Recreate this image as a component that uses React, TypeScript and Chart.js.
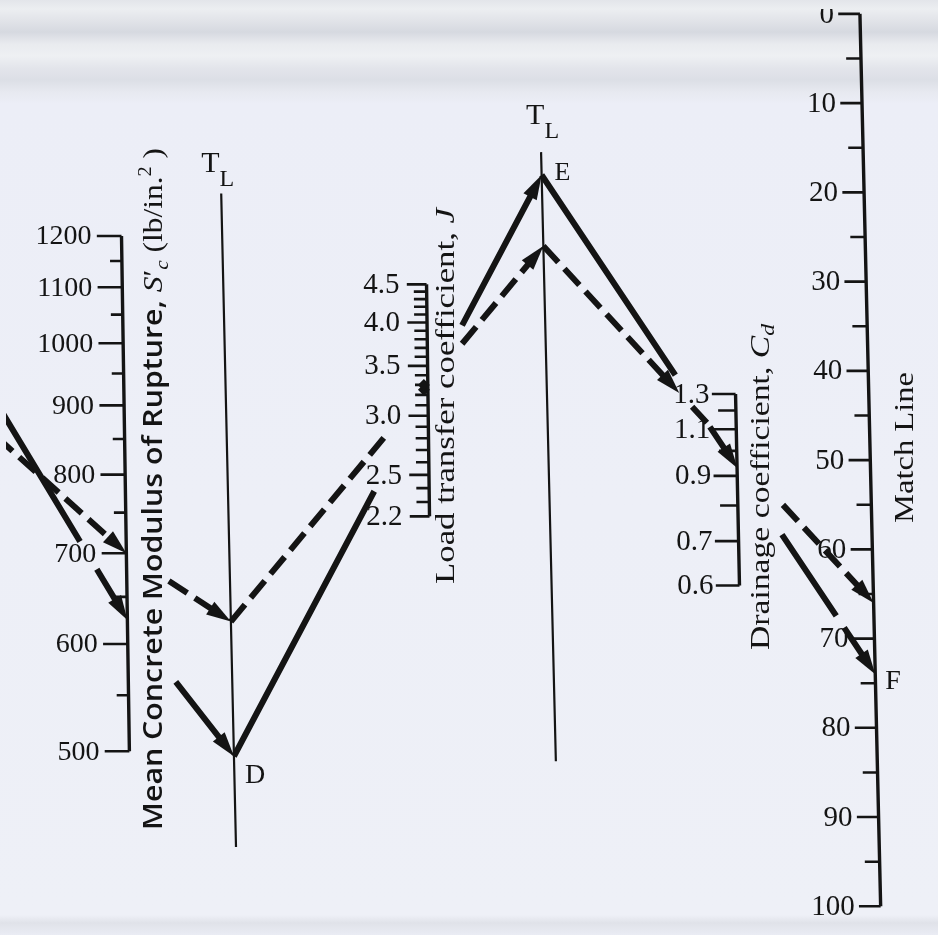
import React, { useEffect, useRef } from "react";
import { Chart, registerables } from "chart.js";

Chart.register(...registerables);

const W = 938;
const H = 935;
const INK = "#141414";
const SERIF = "'Liberation Serif', 'Times New Roman', serif";
const SANS = "'Open Sans', 'DejaVu Sans', sans-serif";

// ---------------- data (nomograph readings) ----------------
const lineNames = ["Solid line", "Dashed line"];
const entryEdgeY = [418, 445]; // where each line enters from the left frame edge (earlier part of the nomograph)
const scReading = [625, 700]; // Mean concrete modulus of rupture S'c (lb/in.^2)
const tlPivotD = [0.861, 0.655]; // turning point on first T_L line (0 = top, 1 = bottom)
const jReading = [3.25, 3.3]; // load transfer coefficient J
const matchReading = [74, 66]; // match line reading

// scale ticks / labels
const scMajor = [1200, 1100, 1000, 900, 800, 700, 600, 500];
const scMinor = [1150, 1050, 950, 850, 750, 650, 550];
const jLabels = [4.5, 4.0, 3.5, 3.0, 2.5, 2.2];
const jTicks = [2.2, 2.3, 2.4, 2.5, 2.6, 2.7, 2.8, 2.9, 3.0, 3.1, 3.2, 3.3, 3.4, 3.5, 3.6, 3.7, 3.8, 3.9, 4.0, 4.1, 4.2, 4.3, 4.4, 4.5];
const cdLabels = [1.3, 1.1, 0.9, 0.7, 0.6];
const cdMinor = [1.2, 1.0, 0.8];
const matchMajor = [0, 10, 20, 30, 40, 50, 60, 70, 80, 90, 100];
const matchMinor = [5, 15, 25, 35, 45, 55, 65, 75, 85, 95];

// ---------------- layout of the nomograph scales ----------------
type Pt = [number, number];
type Axis = { top: Pt; bot: Pt; vTop: number; vBot: number; kind: "log" | "lin" | "isq" };
const axSc: Axis = { top: [117, 233], bot: [125, 755], vTop: 1200, vBot: 500, kind: "log" };
const axTl1: Axis = { top: [218, 190], bot: [233, 852], vTop: 0, vBot: 1, kind: "lin" };
const axJ: Axis = { top: [426, 282], bot: [429, 517], vTop: 4.5, vBot: 2.2, kind: "log" };
const axTl2: Axis = { top: [542, 148], bot: [557, 765], vTop: 0, vBot: 1, kind: "lin" };
const axCd: Axis = { top: [739, 393], bot: [743, 587], vTop: 1.3, vBot: 0.6, kind: "isq" };
const axMatch: Axis = { top: [865, 8], bot: [886, 912], vTop: 0, vBot: 100, kind: "lin" };

function tf(kind: string, v: number) {
  if (kind === "log") return Math.log(v);
  if (kind === "isq") return 1 / Math.sqrt(v);
  return v;
}
function fracOf(ax: Axis, v: number) {
  return (tf(ax.kind, v) - tf(ax.kind, ax.vTop)) / (tf(ax.kind, ax.vBot) - tf(ax.kind, ax.vTop));
}
function along(ax: Axis, f: number): Pt {
  return [ax.top[0] + f * (ax.bot[0] - ax.top[0]), ax.top[1] + f * (ax.bot[1] - ax.top[1])];
}
function at(ax: Axis, v: number): Pt {
  return along(ax, fracOf(ax, v));
}
function intersect(p: Pt, q: Pt, ax: Axis): Pt {
  const r = [q[0] - p[0], q[1] - p[1]];
  const s = [ax.bot[0] - ax.top[0], ax.bot[1] - ax.top[1]];
  const den = r[0] * s[1] - r[1] * s[0];
  const t = ((ax.top[0] - p[0]) * s[1] - (ax.top[1] - p[1]) * s[0]) / den;
  return [p[0] + t * r[0], p[1] + t * r[1]];
}

function lineNodes(i: number): Pt[] {
  const p0: Pt = [0, entryEdgeY[i]];
  const p1 = at(axSc, scReading[i]);
  const p2 = along(axTl1, tlPivotD[i]);
  const p3 = intersect(p2, at(axJ, jReading[i]), axTl2);
  const p4 = at(axMatch, matchReading[i]);
  return [p0, p1, p2, p3, p4];
}

// visible pieces of each line (gaps where the printed scale labels interrupt the line)
type Piece = { seg: number; from?: number; to?: number; arrow?: boolean };
const solidPieces: Piece[] = [
  { seg: 0, from: -10, to: 75 },
  { seg: 0, from: 92, arrow: true },
  { seg: 1, from: 172, arrow: true },
  { seg: 2, to: 373 },
  { seg: 2, from: 462, arrow: true },
  { seg: 3, to: 678 },
  { seg: 3, from: 713, to: 741, arrow: true },
  { seg: 3, from: 786, to: 841 },
  { seg: 3, from: 849, arrow: true },
];
const dashedPieces: Piece[] = [
  { seg: 0, from: -10, arrow: true },
  { seg: 1, from: 165, arrow: true },
  { seg: 2, to: 388 },
  { seg: 2, from: 462, arrow: true },
  { seg: 3, to: 682, arrow: true },
  { seg: 3, from: 695, to: 710 },
  { seg: 3, from: 787, arrow: true },
];

function onSegX(a: Pt, b: Pt, x: number): Pt {
  const t = (x - a[0]) / (b[0] - a[0]);
  return [x, a[1] + t * (b[1] - a[1])];
}
type Arrow = { tip: Pt; back: Pt };
function buildLine(i: number, pieces: Piece[]) {
  const nodes = lineNodes(i);
  const segs: [Pt, Pt][] = [];
  const arrows: Arrow[] = [];
  for (const p of pieces) {
    const a = nodes[p.seg];
    const b = nodes[p.seg + 1];
    const s = p.from == null ? a : onSegX(a, b, p.from);
    let e = p.to == null ? b : onSegX(a, b, p.to);
    if (p.arrow) {
      const dx = e[0] - s[0];
      const dy = e[1] - s[1];
      const L = Math.hypot(dx, dy);
      const ux = dx / L;
      const uy = dy / L;
      arrows.push({ tip: e, back: [e[0] - ux * 25, e[1] - uy * 25] });
      e = [e[0] - ux * 14, e[1] - uy * 14];
    }
    segs.push([s, e]);
  }
  return { segs, arrows, nodes };
}

const solid = buildLine(0, solidPieces);
const dashed = buildLine(1, dashedPieces);

function toData(segs: [Pt, Pt][]) {
  const out: { x: number; y: number | null }[] = [];
  for (const [a, b] of segs) {
    out.push({ x: a[0], y: a[1] });
    out.push({ x: b[0], y: b[1] });
    out.push({ x: b[0], y: null });
  }
  return out;
}

function tick(ax: Axis, v: number, len: number): [Pt, Pt] {
  const [x, y] = at(ax, v);
  return [[x - len, y], [x, y]];
}

const tickSegs: [Pt, Pt][] = [
  ...scMajor.map((v) => tick(axSc, v, 25)),
  ...scMinor.map((v) => tick(axSc, v, 12)),
  ...jTicks.map((v) => tick(axJ, v, jLabels.some((l) => Math.abs(l - v) < 1e-6) ? 20 : 13)),
  ...cdLabels.map((v) => tick(axCd, v, 24)),
  ...cdMinor.map((v) => tick(axCd, v, 18)),
  ...matchMajor.map((v) => tick(axMatch, v, 22)),
  ...matchMinor.map((v) => tick(axMatch, v, 15)),
];
const scaleAxes: [Pt, Pt][] = [axSc, axJ, axCd, axMatch].map((a) => [a.top, a.bot] as [Pt, Pt]);
const pivotAxes: [Pt, Pt][] = [axTl1, axTl2].map((a) => [a.top, a.bot] as [Pt, Pt]);
const jMarks = jReading.map((v) => {
  const p = at(axJ, v);
  return { x: p[0] - 4, y: p[1] };
});

// ---------------- drawing helpers ----------------
type Run = { t: string; f: string; dy?: number };
function drawRuns(ctx: CanvasRenderingContext2D, runs: Run[], x: number, y: number, rot: number, target?: number) {
  ctx.save();
  ctx.translate(x, y);
  ctx.rotate(rot);
  ctx.textAlign = "left";
  ctx.textBaseline = "alphabetic";
  let total = 0;
  for (const r of runs) {
    ctx.font = r.f;
    total += ctx.measureText(r.t).width;
  }
  if (target) ctx.scale(target / total, 1);
  let cx = 0;
  for (const r of runs) {
    ctx.font = r.f;
    ctx.fillText(r.t, cx, r.dy || 0);
    cx += ctx.measureText(r.t).width;
  }
  ctx.restore();
}

const bgPlugin = {
  id: "paper",
  beforeDraw(chart: any) {
    const ctx: CanvasRenderingContext2D = chart.ctx;
    const g = ctx.createLinearGradient(0, 0, 0, H);
    const stops: [number, string][] = [
      [0, "#e3e5ea"],
      [9, "#eceef1"],
      [20, "#e2e4e9"],
      [32, "#d6d9e0"],
      [44, "#e9ebef"],
      [56, "#eef0f3"],
      [68, "#e3e5eb"],
      [80, "#dcdfe6"],
      [92, "#e7e9f0"],
      [104, "#eceef7"],
      [915, "#eef0f7"],
      [923, "#e0e2e9"],
      [935, "#eaecf4"],
    ];
    for (const [y, c] of stops) g.addColorStop(y / H, c);
    ctx.save();
    ctx.fillStyle = g;
    ctx.fillRect(0, 0, chart.width, chart.height);
    ctx.restore();
  },
};

const decoPlugin = {
  id: "deco",
  afterDatasetsDraw(chart: any) {
    const ctx: CanvasRenderingContext2D = chart.ctx;
    const xs = chart.scales.x;
    const ys = chart.scales.y;
    const P = (p: Pt): Pt => [xs.getPixelForValue(p[0]), ys.getPixelForValue(p[1])];
    ctx.save();
    ctx.fillStyle = INK;

    // arrowheads
    for (const a of [...solid.arrows, ...dashed.arrows]) {
      const t = P(a.tip);
      const b = P(a.back);
      const dx = t[0] - b[0];
      const dy = t[1] - b[1];
      const L = Math.hypot(dx, dy);
      const nx = -dy / L;
      const ny = dx / L;
      const hw = 7.5;
      ctx.beginPath();
      ctx.moveTo(t[0], t[1]);
      ctx.lineTo(b[0] + nx * hw, b[1] + ny * hw);
      ctx.lineTo(b[0] - nx * hw, b[1] - ny * hw);
      ctx.closePath();
      ctx.fill();
    }

    // scale numbers
    const num = (ax: Axis, vals: number[], fmt: (v: number) => string, off: number, font: string) => {
      ctx.font = font;
      ctx.textAlign = "right";
      ctx.textBaseline = "middle";
      for (const v of vals) {
        const p = P(at(ax, v));
        if (ax === axMatch && v === 0) {
          ctx.save();
          ctx.beginPath();
          ctx.rect(0, 9, W, 40);
          ctx.clip();
          ctx.fillText(fmt(v), p[0] - off, p[1] + 1);
          ctx.restore();
        } else {
          ctx.fillText(fmt(v), p[0] - off, p[1] + 1);
        }
      }
    };
    num(axSc, scMajor, (v) => String(v), 30, `28px ${SERIF}`);
    num(axJ, jLabels, (v) => v.toFixed(1), 27, `29px ${SERIF}`);
    num(axCd, cdLabels, (v) => v.toFixed(1), 26, `29px ${SERIF}`);
    num(axMatch, matchMajor, (v) => String(v), 26, `29px ${SERIF}`);

    // axis titles (rotated, reading upward)
    const R = -Math.PI / 2;
    drawRuns(
      ctx,
      [
        { t: "Mean Concrete Modulus of Rupture, ", f: `600 27px ${SANS}` },
        { t: "S", f: `italic 28px ${SERIF}` },
        { t: "′", f: `28px ${SERIF}` },
        { t: "c", f: `italic 19px ${SERIF}`, dy: 6 },
        { t: " (lb/in.", f: `28px ${SERIF}` },
        { t: "2", f: `18px ${SERIF}`, dy: -11 },
        { t: " )", f: `28px ${SERIF}` },
      ],
      162,
      830,
      R,
      682
    );
    drawRuns(
      ctx,
      [
        { t: "Load transfer coefficient, ", f: `27px ${SERIF}` },
        { t: "J", f: `italic 27px ${SERIF}` },
      ],
      454,
      584,
      R,
      376
    );
    drawRuns(
      ctx,
      [
        { t: "Drainage coefficient, ", f: `27px ${SERIF}` },
        { t: "C", f: `italic 27px ${SERIF}` },
        { t: "d", f: `italic 19px ${SERIF}`, dy: 5 },
      ],
      769,
      650,
      R,
      326
    );
    drawRuns(ctx, [{ t: "Match Line", f: `27px ${SERIF}` }], 913, 523, R, 151);

    // T_L labels
    const tl = (x: number, y: number) => {
      drawRuns(
        ctx,
        [
          { t: "T", f: `30px ${SERIF}` },
          { t: "L", f: `24px ${SERIF}`, dy: 14 },
        ],
        x,
        y,
        0
      );
    };
    const t1 = P(axTl1.top);
    const t2 = P(axTl2.top);
    tl(t1[0] - 20, t1[1] - 22);
    tl(t2[0] - 15, t2[1] - 28);

    // turning point letters
    const D = P(solid.nodes[2]);
    const E = P(solid.nodes[3]);
    const F = P(solid.nodes[4]);
    drawRuns(ctx, [{ t: "D", f: `28px ${SERIF}` }], D[0] + 11, D[1] + 27, 0);
    drawRuns(ctx, [{ t: "E", f: `26px ${SERIF}` }], E[0] + 13, E[1] + 5, 0);
    drawRuns(ctx, [{ t: "F", f: `28px ${SERIF}` }], F[0] + 10, F[1] + 15, 0);
    ctx.restore();
  },
};

export default function App() {
  const ref = useRef<HTMLCanvasElement>(null);
  useEffect(() => {
    const common = { pointRadius: 0, showLine: true, spanGaps: false, tension: 0, borderColor: INK, borderCapStyle: "butt" as const };
    const chart = new Chart(ref.current!, {
      type: "scatter",
      data: {
        datasets: [
          { label: "T_L lines", data: toData(pivotAxes), borderWidth: 2.2, ...common },
          { label: "Scales", data: toData(scaleAxes), borderWidth: 3.4, ...common },
          { label: "Ticks", data: toData(tickSegs), borderWidth: 2.6, ...common },
          { label: lineNames[0], data: toData(solid.segs), borderWidth: 6, ...common },
          { label: lineNames[1], data: toData(dashed.segs), borderWidth: 6, borderDash: [22, 9], ...common },
          {
            label: "J reading",
            data: jMarks,
            showLine: false,
            pointRadius: 6,
            pointStyle: "rectRot",
            backgroundColor: INK,
            borderColor: INK,
            borderWidth: 0,
          } as any,
        ],
      },
      options: {
        responsive: false,
        animation: false,
        layout: { padding: 0 },
        plugins: { legend: { display: false }, tooltip: { enabled: false } },
        scales: {
          x: { type: "linear", min: 0, max: W, display: false },
          y: { type: "linear", min: 0, max: H, reverse: true, display: false },
        },
      },
      plugins: [bgPlugin, decoPlugin],
    });
    return () => chart.destroy();
  }, []);
  return (
    <div style={{ position: "absolute", left: 0, top: 0, width: W, height: H }}>
      <canvas ref={ref} width={W} height={H} style={{ width: W, height: H, display: "block" }} />
    </div>
  );
}
